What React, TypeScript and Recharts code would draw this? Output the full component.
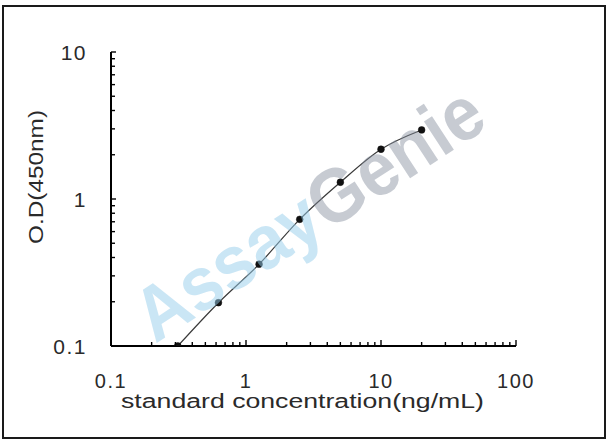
import React from 'react';
import { LineChart, Line, XAxis, YAxis, Label } from 'recharts';

// Standard curve data
const concentrations = [0.3125, 0.625, 1.25, 2.5, 5, 10, 20];
const odValues = [0.1, 0.197, 0.36, 0.727, 1.3, 2.18, 2.95];

// Axis ticks (log scales)
const xTicks = [
  0.1, 0.2, 0.3, 0.4, 0.5, 0.6, 0.7, 0.8, 0.9,
  1, 2, 3, 4, 5, 6, 7, 8, 9,
  10, 20, 30, 40, 50, 60, 70, 80, 90, 100,
];
const yTicks = [
  0.1, 0.2, 0.3, 0.4, 0.5, 0.6, 0.7, 0.8, 0.9,
  1, 2, 3, 4, 5, 6, 7, 8, 9, 10,
];
const xMajorLabels = ['0.1', '1', '10', '100'];
const yMajorLabels = ['0.1', '1', '10'];

const xTitle = 'standard concentration(ng/mL)';
const yTitle = 'O.D(450nm)';
const watermarkA = 'Assay';
const watermarkB = 'Genie';

const data = concentrations.map((c, i) => ({ conc: c, od: odValues[i] }));

const FONT = '"Liberation Sans", Arial, Helvetica, sans-serif';
const TEXT_COLOR = '#2a2a2a';

const XTick = (props: any) => {
  const { x, y, payload } = props;
  const v = payload.value;
  const label = xMajorLabels.find((l) => Number(l) === v);
  const major = label !== undefined;
  return (
    <g>
      <line x1={x} x2={x} y1={y} y2={y - (major ? 6 : 4)} stroke="#000" strokeWidth={1.4} />
      {major && (
        <text x={x} y={y + 42} textAnchor="middle" fontSize={20} letterSpacing={1.5} fill={TEXT_COLOR} fontFamily={FONT}>
          {label}
        </text>
      )}
    </g>
  );
};

const YTick = (props: any) => {
  const { x, y, payload } = props;
  const v = payload.value;
  const label = yMajorLabels.find((l) => Number(l) === v);
  const major = label !== undefined;
  return (
    <g>
      <line x1={x} x2={x + (major ? 5 : 4)} y1={y} y2={y} stroke="#000" strokeWidth={1.4} />
      {major && (
        <text x={x - 24} y={y} dy="0.36em" textAnchor="end" fontSize={21} letterSpacing={1.5} fill={TEXT_COLOR} fontFamily={FONT}>
          {label}
        </text>
      )}
    </g>
  );
};

const XTitle = (props: any) => {
  const vb = props.viewBox || { x: 111, y: 346, width: 405 };
  const cx = vb.x + vb.width / 2 - 11;
  return (
    <text
      x={cx}
      y={vb.y + 62}
      textAnchor="middle"
      fontSize={20}
      fill={TEXT_COLOR}
      fontFamily={FONT}
      textLength={363}
      lengthAdjust="spacingAndGlyphs"
    >
      {xTitle}
    </text>
  );
};

const YTitle = (props: any) => {
  const vb = props.viewBox || { x: 0, y: 52, width: 111, height: 294 };
  const cx = vb.x + 35;
  const cy = vb.y + vb.height / 2 - 22;
  return (
    <text
      x={cx}
      y={cy}
      transform={`rotate(-90 ${cx} ${cy})`}
      textAnchor="middle"
      dy="0.36em"
      fontSize={21}
      fill={TEXT_COLOR}
      fontFamily={FONT}
      textLength={134}
      lengthAdjust="spacingAndGlyphs"
    >
      {yTitle}
    </text>
  );
};

const Dot = (props: any) => {
  const { cx, cy } = props;
  if (cx == null || cy == null) return null;
  return <circle cx={cx} cy={cy} r={3.4} fill="#111" stroke="#111" strokeWidth={0.5} />;
};

export default function App() {
  return (
    <div style={{ position: 'absolute', left: 0, top: 0, width: 608, height: 441, background: '#fff', overflow: 'hidden' }}>
      <LineChart
        width={608}
        height={441}
        data={data}
        margin={{ top: 52, right: 92, bottom: 0, left: 0 }}
      >
        <XAxis
          dataKey="conc"
          type="number"
          scale="log"
          domain={[0.1, 100]}
          allowDataOverflow
          ticks={xTicks}
          interval={0}
          tick={<XTick />}
          tickLine={false}
          tickSize={0}
          tickMargin={0}
          height={95}
          axisLine={{ stroke: '#000', strokeWidth: 2 }}
        >
          <Label content={<XTitle />} />
        </XAxis>
        <YAxis
          dataKey="od"
          type="number"
          scale="log"
          domain={[0.1, 10]}
          allowDataOverflow
          ticks={yTicks}
          interval={0}
          tick={<YTick />}
          tickLine={false}
          tickSize={0}
          tickMargin={0}
          width={111}
          axisLine={{ stroke: '#000', strokeWidth: 2 }}
        >
          <Label content={<YTitle />} />
        </YAxis>
        <Line
          type="monotone"
          dataKey="od"
          stroke="#3a3a3a"
          strokeWidth={1.2}
          dot={<Dot />}
          activeDot={false}
          isAnimationActive={false}
        />
      </LineChart>
      <svg
        width={608}
        height={441}
        style={{ position: 'absolute', left: 0, top: 0, pointerEvents: 'none' }}
      >
        <text
          transform="translate(308,212) rotate(-33)"
          textAnchor="middle"
          fontSize={76}
          fontWeight="bold"
          fontFamily={FONT}
          dy="0.36em"
          textLength={400}
          lengthAdjust="spacingAndGlyphs"
        >
          <tspan fill="rgba(150,205,235,0.5)">{watermarkA}</tspan>
          <tspan fill="rgba(130,140,155,0.45)">{watermarkB}</tspan>
        </text>
      </svg>
      <div
        style={{
          position: 'absolute',
          left: 2,
          top: 5,
          width: 600,
          height: 430,
          border: '2px solid #1a1a1a',
          pointerEvents: 'none',
        }}
      />
    </div>
  );
}
